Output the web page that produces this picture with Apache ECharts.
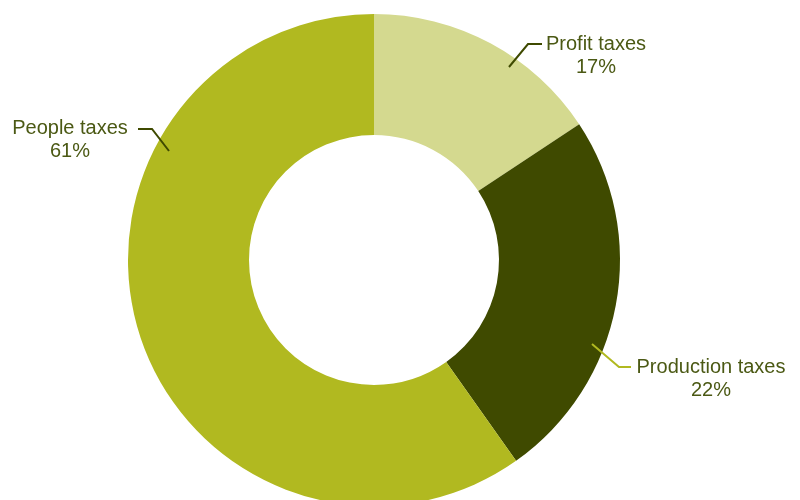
<!DOCTYPE html>
<html><head><meta charset="utf-8">
<script src="https://cdn.jsdelivr.net/npm/echarts@6/dist/echarts.min.js"></script>
<style>html,body{margin:0;padding:0;background:#fff}#c{width:800px;height:500px}</style>
</head><body><div id="c"></div>
<script>
const categories = ['Profit taxes', 'Production taxes', 'People taxes'];
const sliceValues = [15.7, 24.5, 59.8];
// percentages printed in the labels
const labelPercents = [17, 22, 61];
const sliceColors = ['#d4d98f', '#3f4a00', '#b1b920'];
const lineColors = ['#3f4a00', '#b1b920', '#3f4a00'];

const labelSpots = [
  {x: 596, y: 55.5, pts: [[509, 67], [528, 44], [542, 44]]},
  {x: 711, y: 378.5, pts: [[592, 344], [619, 367], [631, 367]]},
  {x: 70, y: 140, pts: [[169, 151], [152, 129], [138, 129]]}
];

const base = {
  type: 'pie',
  center: [374, 260],
  radius: [125, 246],
  startAngle: 90,
  clockwise: true,
  avoidLabelOverlap: false,
  emphasis: {disabled: true}
};

const chart = echarts.init(document.getElementById('c'), null, {renderer: 'canvas'});
chart.setOption({
  animation: false,
  series: [
    Object.assign({}, base, {
      z: 1,
      data: categories.map((n, i) => ({name: n, value: sliceValues[i], itemStyle: {color: sliceColors[i]}})),
      label: {show: false},
      labelLine: {show: false}
    }),
    Object.assign({}, base, {
      z: 5,
      silent: true,
      data: categories.map((n, i) => ({
        name: n, value: sliceValues[i],
        itemStyle: {color: 'rgba(0,0,0,0)'},
        labelLine: {lineStyle: {color: lineColors[i], width: 2}}
      })),
      label: {
        show: true,
        position: 'outside',
        formatter: p => p.name + '\n' + labelPercents[p.dataIndex] + '%',
        color: '#4b5914',
        fontFamily: 'Liberation Sans, Arial, sans-serif',
        fontSize: 20,
        lineHeight: 23,
        align: 'center'
      },
      labelLine: {show: true, length: 10, length2: 10},
      labelLayout: function (params) {
        const s = labelSpots[params.dataIndex];
        return {x: s.x, y: s.y, align: 'center', verticalAlign: 'middle', labelLinePoints: s.pts};
      }
    })
  ]
});
</script></body></html>
